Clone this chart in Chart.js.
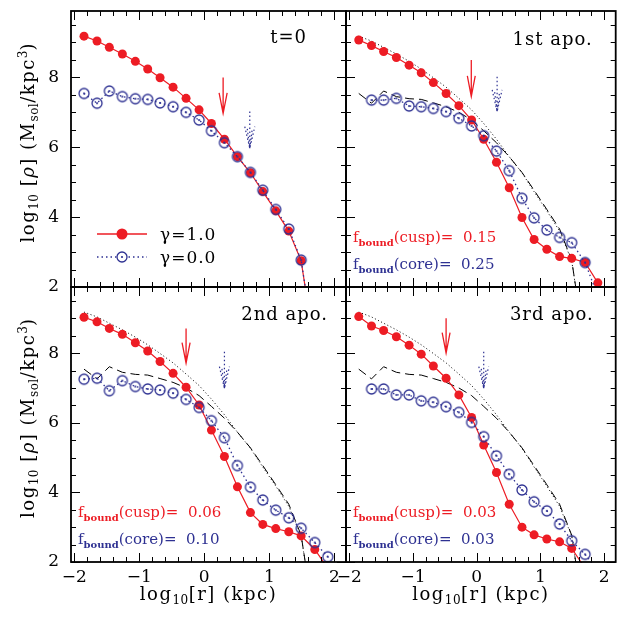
<!DOCTYPE html>
<html><head><meta charset="utf-8">
<script src="https://cdn.jsdelivr.net/npm/chart.js@4"></script>
<style>
html,body{margin:0;padding:0;background:#fff;}
#wrap{position:relative;width:622px;height:619px;overflow:hidden;background:#fff;}
canvas{position:absolute;left:0;top:0;}
</style></head><body>
<div id="wrap">
<canvas id="c0" width="622" height="619"></canvas>
<canvas id="c1" width="622" height="619"></canvas>
<canvas id="c2" width="622" height="619"></canvas>
<canvas id="c3" width="622" height="619"></canvas>
</div>
<script>
// ---------------- data ----------------
const logR = [-1.85,-1.65,-1.46,-1.26,-1.06,-0.87,-0.68,-0.48,-0.28,-0.08,0.11,0.31,0.51,0.71,0.90,1.10,1.30,1.49,1.70,1.90];
const xTickValues = [-2,-1,0,1,2];
const yTickValues = [2,4,6,8];

// t = 0 profiles (cusp: gamma=1, core: gamma=0)
const t0Cusp = [9.18,9.04,8.86,8.67,8.46,8.24,7.99,7.72,7.40,7.07,6.68,6.23,5.73,5.27,4.73,4.18,3.60,2.75,0.2,null];
const t0Core = [7.54,7.26,7.61,7.45,7.39,7.37,7.27,7.16,7.00,6.78,6.47,6.13,5.73,5.28,4.77,4.22,3.66,2.77,0.2,null];
// 1st apocentre
const apo1Cusp = [9.07,8.91,8.74,8.57,8.35,8.13,7.85,7.54,7.19,6.78,6.23,5.57,4.84,3.99,3.36,3.08,2.87,2.82,2.70,2.12];
const apo1Core = [null,7.35,7.35,7.40,7.18,7.16,7.11,7.02,6.83,6.61,6.33,5.89,5.33,4.54,3.98,3.63,3.42,3.27,2.70,1.74];
// 2nd apocentre
const apo2Cusp = [9.03,8.90,8.71,8.54,8.30,8.06,7.76,7.42,7.02,6.51,5.79,5.03,4.16,3.42,3.08,2.96,2.87,2.75,2.36,1.82];
const apo2Core = [7.25,7.28,6.92,7.21,7.04,6.97,6.94,6.85,6.67,6.44,6.06,5.57,4.77,4.15,3.78,3.49,3.27,2.97,2.56,2.15];
// 3rd apocentre
const apo3Cusp = [9.05,8.78,8.65,8.47,8.23,7.97,7.63,7.28,6.80,6.15,5.36,4.57,3.66,3.00,2.78,2.66,2.58,2.39,1.82,null];
const apo3Core = [null,6.97,6.97,6.80,6.80,6.63,6.59,6.46,6.30,6.01,5.60,5.05,4.52,4.07,3.73,3.47,3.09,2.61,2.22,1.75];

const panelLabels = ['t=0','1st apo.','2nd apo.','3rd apo.'];
const fboundCusp = [null,'0.15','0.06','0.03'];
const fboundCore = [null,'0.25','0.10','0.03'];

// arrows: x position, top and tip of the shaft (log10 rho)
const arrowCuspX   = [0.29,-0.085,-0.28,-0.48];
const arrowCuspTop = [8.00,8.50,8.71,9.00];
const arrowCuspTip = [6.97,7.45,7.71,8.00];
const arrowCoreX   = [0.70,0.32,0.31,0.11];
const arrowCoreTop = [7.02,8.02,8.04,8.04];
const arrowCoreTip = [5.97,7.02,6.99,6.99];

const cuspSeries = [t0Cusp, apo1Cusp, apo2Cusp, apo3Cusp];
const coreSeries = [t0Core, apo1Core, apo2Core, apo3Core];

// ---------------- styles ----------------
const RED = '#ed1c24', BLUE = '#2e3192';
const SERIF = '"DejaVu Serif", serif';
const X_MIN = -2.05, X_MAX = 2.18, Y_MIN = 2, Y_MAX = 9.9;

function makeCoreMarker(r) {
  const c = document.createElement('canvas');
  const s = 14; c.width = s; c.height = s;
  const g = c.getContext('2d');
  g.strokeStyle = BLUE; g.lineWidth = 1.3;
  g.beginPath(); g.arc(s/2, s/2, r, 0, 2*Math.PI); g.stroke();
  g.fillStyle = BLUE; g.beginPath(); g.arc(s/2, s/2, 1.1, 0, 2*Math.PI); g.fill();
  return c;
}
const coreMarker = makeCoreMarker(5);

function pts(ys) {
  return logR.map((x, i) => ({x, y: ys[i]})).filter(p => p.y !== null && p.y !== undefined);
}
function arrowPts(x, top, tip, dx, dy, inner) {
  const d = [{x, y: top}, {x, y: tip}, {x, y: null},
             {x: x - dx, y: tip + dy}, {x, y: tip}, {x: x + dx, y: tip + dy}];
  if (inner) d.push({x, y: null}, {x: x - dx/2, y: tip + dy*0.9}, {x, y: tip}, {x: x + dx/2, y: tip + dy*0.9});
  return d;
}
function fmt(v) { return v < 0 ? '\u2212' + Math.abs(v) : String(v); }

function drawRich(ctx, segs, x, y, align) {
  const widths = segs.map(s => { ctx.font = s.font; ctx.letterSpacing = s.ls || '0px'; return ctx.measureText(s.t).width; });
  const w = widths.reduce((a, b) => a + b, 0);
  let cx = align === 'center' ? x - w/2 : (align === 'right' ? x - w : x);
  ctx.textAlign = 'left'; ctx.textBaseline = 'alphabetic';
  segs.forEach((s, i) => {
    ctx.font = s.font; ctx.letterSpacing = s.ls || '0px';
    ctx.fillStyle = s.color || '#000';
    ctx.fillText(s.t, cx, y + (s.dy || 0));
    cx += widths[i];
  });
  ctx.letterSpacing = '0px';
}

const decor = {
  id: 'decor',
  afterDatasetsDraw(chart, args, o) {
    const ctx = chart.ctx, a = chart.chartArea, xs = chart.scales.x, ys = chart.scales.y;
    ctx.save();
    // inward ticks on all four sides
    ctx.strokeStyle = '#000'; ctx.lineWidth = 1;
    ctx.beginPath();
    for (let k = -11; k <= 11; k++) {
      const v = k / 5; if (v < X_MIN || v > X_MAX) continue;
      const px = Math.round(xs.getPixelForValue(v)) + 0.5;
      const L = (k % 5 === 0) ? 9 : 5;
      ctx.moveTo(px, a.bottom); ctx.lineTo(px, a.bottom - L);
      ctx.moveTo(px, a.top); ctx.lineTo(px, a.top + L);
    }
    for (let k = 4; k <= 19; k++) {
      const v = k / 2; if (v < Y_MIN || v > Y_MAX) continue;
      const py = Math.round(ys.getPixelForValue(v)) + 0.5;
      const L = (k % 4 === 0) ? 9 : 5;
      ctx.moveTo(a.left, py); ctx.lineTo(a.left + L, py);
      ctx.moveTo(a.right, py); ctx.lineTo(a.right - L, py);
    }
    ctx.stroke();
    // frame
    ctx.lineWidth = 1.8;
    ctx.strokeRect(a.left, a.top, a.right - a.left, a.bottom - a.top);

    // panel label
    drawRich(ctx, [{t: o.label, font: `18px ${SERIF}`, ls: '1px'}], a.right - o.labelDx, a.top + o.labelDy, 'right');

    // f_bound texts
    if (o.fCusp) {
      drawRich(ctx, [
        {t: 'f', font: `15px ${SERIF}`, color: RED},
        {t: 'bound', font: `bold 10px ${SERIF}`, color: RED, dy: 4},
        {t: '(cusp)=  ' + o.fCusp, font: `15px ${SERIF}`, color: RED}
      ], a.left + 7, a.bottom - 45, 'left');
      drawRich(ctx, [
        {t: 'f', font: `15px ${SERIF}`, color: BLUE},
        {t: 'bound', font: `bold 10px ${SERIF}`, color: BLUE, dy: 4},
        {t: '(core)=  ' + o.fCore, font: `15px ${SERIF}`, color: BLUE}
      ], a.left + 7, a.bottom - 18, 'left');
    }

    // legend
    if (o.legend) {
      const y1 = a.top + 223, y2 = a.top + 246, x0 = a.left + 26, x1 = a.left + 76, xm = a.left + 51;
      ctx.strokeStyle = RED; ctx.lineWidth = 1.3;
      ctx.beginPath(); ctx.moveTo(x0, y1); ctx.lineTo(x1, y1); ctx.stroke();
      ctx.fillStyle = RED; ctx.beginPath(); ctx.arc(xm, y1, 5.5, 0, 2*Math.PI); ctx.fill();
      ctx.strokeStyle = BLUE; ctx.lineWidth = 1.3; ctx.setLineDash([1.5, 3]);
      ctx.beginPath(); ctx.moveTo(x0, y2); ctx.lineTo(x1, y2); ctx.stroke();
      ctx.setLineDash([]);
      ctx.fillStyle = '#fff'; ctx.beginPath(); ctx.arc(xm, y2, 5.5, 0, 2*Math.PI); ctx.fill();
      ctx.drawImage(coreMarker, xm - 7, y2 - 7);
      drawRich(ctx, [{t: '\u03b3=1.0', font: `17px ${SERIF}`, ls: '1px'}], a.left + 89, y1 + 6, 'left');
      drawRich(ctx, [{t: '\u03b3=0.0', font: `17px ${SERIF}`, ls: '1px'}], a.left + 89, y2 + 6, 'left');
    }

    // axis titles
    const tf = `18px ${SERIF}`, sf = `12px ${SERIF}`;
    if (o.yTitle) {
      ctx.save();
      ctx.translate(34, (a.top + a.bottom) / 2 - 6);
      ctx.rotate(-Math.PI / 2);
      drawRich(ctx, [
        {t: 'log', font: tf, ls: '1.5px'},
        {t: '10', font: sf, dy: 4, ls: '0.5px'},
        {t: ' [', font: tf, ls: '1.5px'},
        {t: '\u03c1', font: `italic 18px ${SERIF}`, ls: '1.5px'},
        {t: '] (M', font: tf, ls: '1.5px'},
        {t: 'sol', font: sf, dy: 4, ls: '0.5px'},
        {t: '/kpc', font: tf, ls: '1.5px'},
        {t: '3', font: sf, dy: -7},
        {t: ')', font: tf}
      ], 0, 0, 'center');
      ctx.restore();
    }
    if (o.xTitle) {
      drawRich(ctx, [
        {t: 'log', font: tf, ls: '1.5px'},
        {t: '10', font: sf, dy: 4, ls: '0.5px'},
        {t: '[r] (kpc)', font: tf, ls: '1.5px'}
      ], (a.left + a.right) / 2, 600, 'center');
    }
    ctx.restore();
  }
};

function makePanel(idx) {
  const left = idx % 2 === 0, top = idx < 2;
  const datasets = [];
  if (idx > 0) {
    datasets.push({data: pts(t0Cusp), borderColor: '#000', borderWidth: 1, borderDash: [1, 2.5], pointRadius: 0, order: 6, clip: 0});
    datasets.push({data: pts(t0Core), borderColor: '#000', borderWidth: 1, borderDash: [9, 5], pointRadius: 0, order: 5, clip: 0});
  }
  datasets.push({data: pts(cuspSeries[idx]), borderColor: RED, borderWidth: 1.2, pointStyle: 'circle', pointRadius: 4.5,
                 pointBackgroundColor: RED, pointBorderColor: RED, pointBorderWidth: 0, order: 2, clip: 1});
  datasets.push({data: pts(coreSeries[idx]), borderColor: BLUE, borderWidth: 1.3, borderDash: [1.5, 3], pointStyle: coreMarker,
                 pointRadius: 5, order: 1, clip: 1});
  datasets.push({data: arrowPts(arrowCuspX[idx], arrowCuspTop[idx], arrowCuspTip[idx], 0.062, 0.59, false),
                 borderColor: RED, borderWidth: 1.3, pointRadius: 0, order: 3, clip: 0});
  datasets.push({data: arrowPts(arrowCoreX[idx], arrowCoreTop[idx], arrowCoreTip[idx], 0.077, 0.62, true),
                 borderColor: BLUE, borderWidth: 1.2, borderDash: [1.5, 2.5], pointRadius: 0, order: 4, clip: 0});
  datasets.forEach(d => { d.tension = 0; d.fill = false; d.spanGaps = false; });

  const area = {left: left ? 71 : 346, right: left ? 346 : 620, top: top ? 11 : 287, bottom: top ? 287 : 562};
  const yW = 50, xH = 50;
  const padding = {
    left: left ? area.left - yW : area.left,
    right: 622 - area.right,
    top: area.top,
    bottom: top ? 619 - area.bottom : 619 - area.bottom - xH
  };
  const tickFont = {family: SERIF, size: 17};
  const xScale = {type: 'linear', min: X_MIN, max: X_MAX, display: !top,
    afterBuildTicks: s => { s.ticks = xTickValues.map(v => ({value: v})); },
    grid: {display: false, drawTicks: false}, border: {display: false},
    ticks: {font: tickFont, color: '#000', padding: 5, maxRotation: 0, autoSkip: false, callback: v => fmt(v)}};
  if (!top) xScale.afterFit = s => { s.height = xH; s.paddingLeft = 0; s.paddingRight = 0; };
  const yScale = {type: 'linear', min: Y_MIN, max: Y_MAX, display: left,
    afterBuildTicks: s => { s.ticks = yTickValues.map(v => ({value: v})); },
    grid: {display: false, drawTicks: false}, border: {display: false},
    ticks: {font: tickFont, color: '#000', padding: 12, autoSkip: false, callback: v => String(v)}};
  if (left) yScale.afterFit = s => { s.width = yW; s.paddingTop = 0; s.paddingBottom = 0; };

  const labelPos = [[39, 32], [23, 34], [18, 33], [22, 33]];
  new Chart(document.getElementById('c' + idx), {
    type: 'line',
    data: {datasets},
    options: {
      responsive: false, animation: false, devicePixelRatio: 1, events: [],
      layout: {padding},
      scales: {x: xScale, y: yScale},
      plugins: {
        legend: {display: false}, tooltip: {enabled: false},
        decor: {label: panelLabels[idx], labelDx: labelPos[idx][0], labelDy: labelPos[idx][1],
                fCusp: fboundCusp[idx], fCore: fboundCore[idx], legend: idx === 0,
                yTitle: left, xTitle: !top}
      }
    },
    plugins: [decor]
  });
}
[0, 1, 2, 3].forEach(makePanel);
</script>
</body></html>
